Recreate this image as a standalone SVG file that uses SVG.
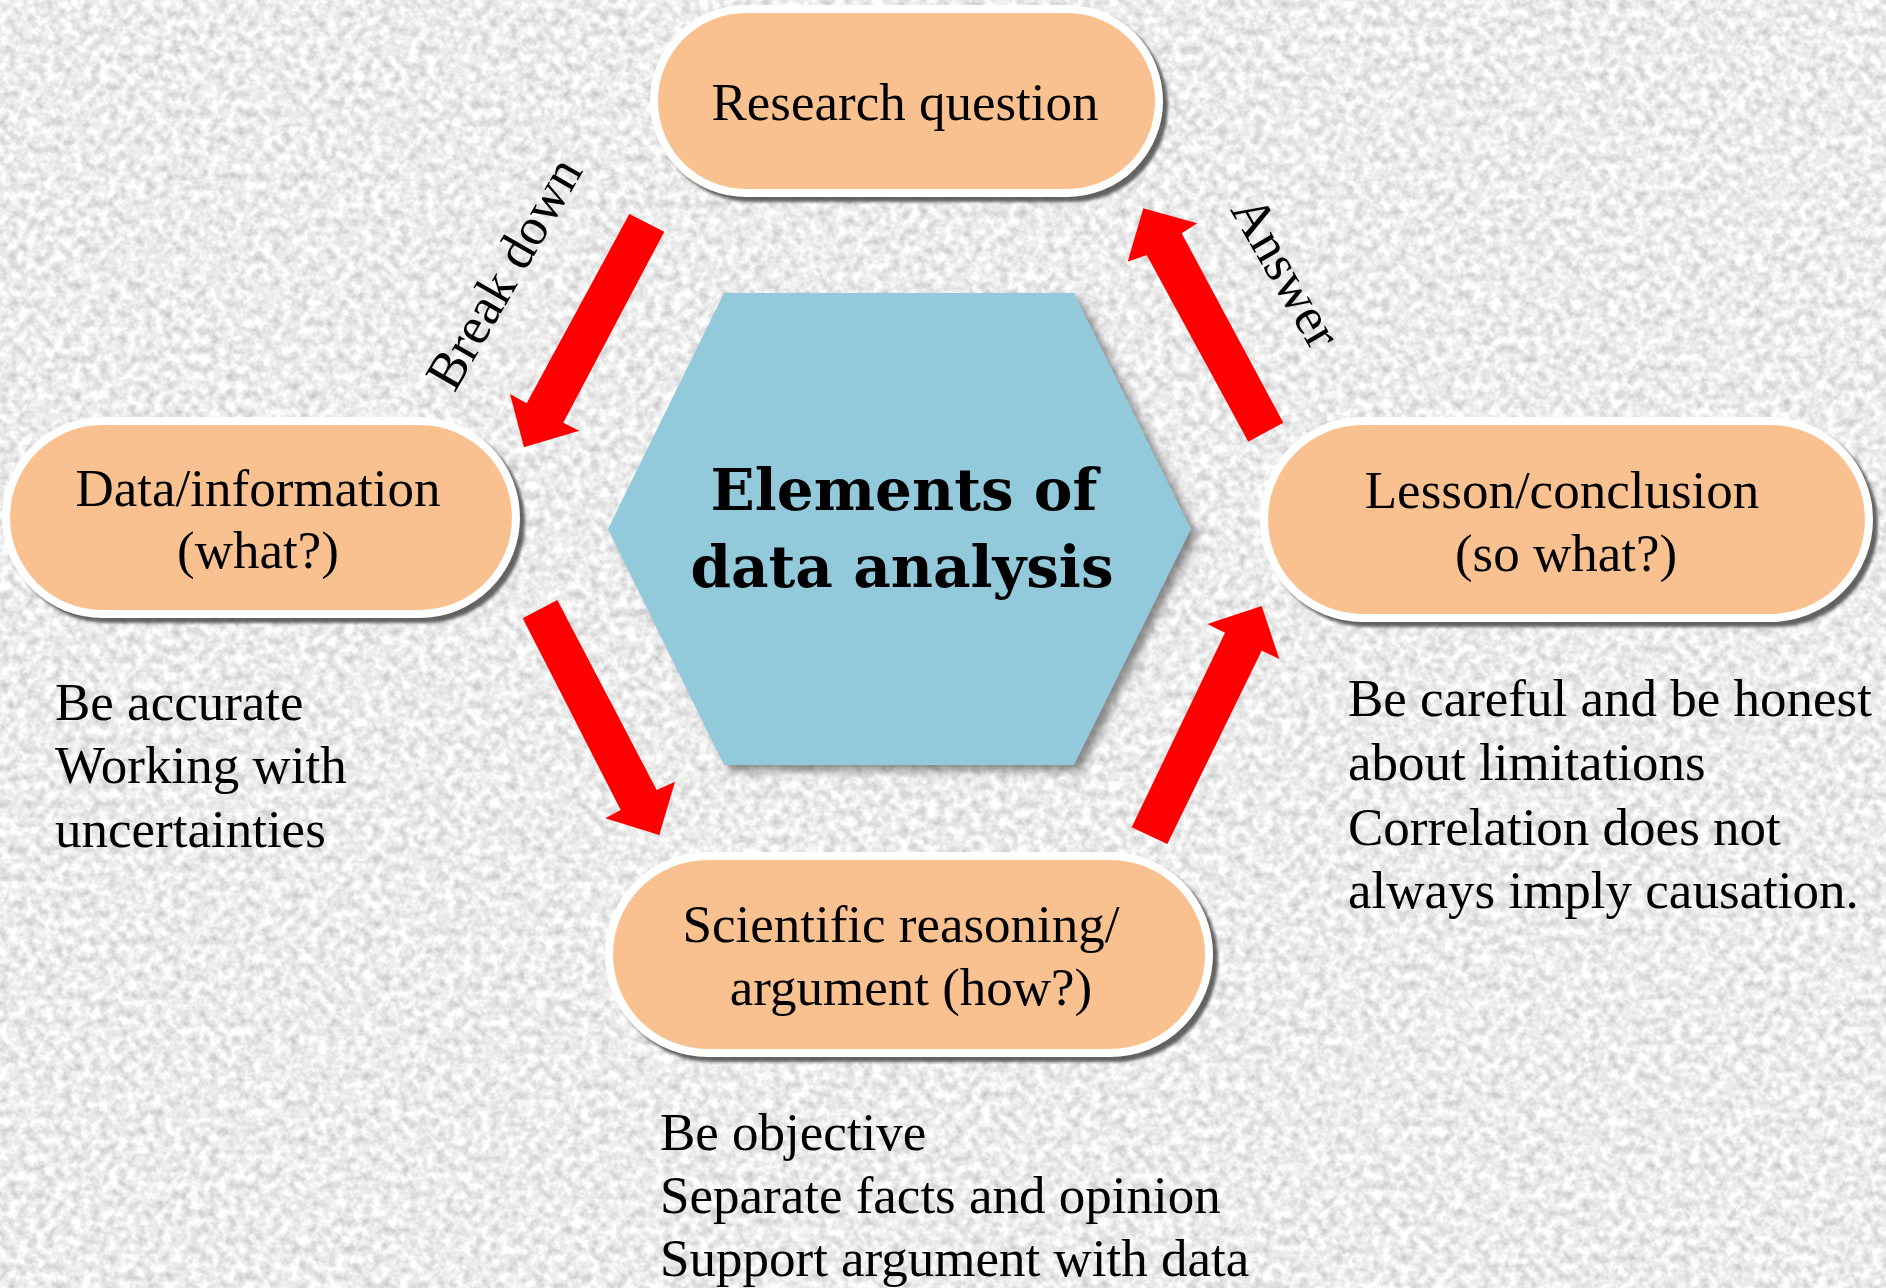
<svg xmlns="http://www.w3.org/2000/svg" width="1886" height="1288" viewBox="0 0 1886 1288">
  <defs>
    <!-- granite-like paper background -->
    <filter id="grain" x="0" y="0" width="100%" height="100%" color-interpolation-filters="sRGB">
      <feTurbulence type="fractalNoise" baseFrequency="0.11" numOctaves="3" seed="7" result="n"/>
      <feColorMatrix in="n" type="matrix" values="0.36 0 0 0 0.745  0.36 0 0 0 0.745  0.36 0 0 0 0.745  0 0 0 0 1"/>
    </filter>
    <filter id="pillShadow" x="-5%" y="-10%" width="115%" height="130%" color-interpolation-filters="sRGB">
      <feDropShadow dx="5" dy="5" stdDeviation="1.6" flood-color="#4a4a4a" flood-opacity="0.85"/>
    </filter>
    <filter id="hexShadow" x="-10%" y="-10%" width="125%" height="125%" color-interpolation-filters="sRGB">
      <feDropShadow dx="7" dy="6" stdDeviation="4" flood-color="#555555" flood-opacity="0.65"/>
    </filter>
    <style>
      .pill { fill: #F9C190; stroke: #FFFFFF; stroke-width: 8; filter: url(#pillShadow); }
      .hex { fill: #92CADB; filter: url(#hexShadow); }
      .arrow { fill: #FF0000; stroke: none; }
      .label { font-family: "Liberation Serif", "Times New Roman", serif; font-size: 53px; fill: #000000; }
      .mid { text-anchor: middle; }
      .title { font-family: "DejaVu Serif", serif; font-weight: bold; font-size: 58px; fill: #000000; text-anchor: middle; }
    </style>
  </defs>

  <rect x="0" y="0" width="1886" height="1288" fill="#E8E8E8"/>
  <rect x="0" y="0" width="1886" height="1288" filter="url(#grain)"/>

  <!-- central hexagon -->
  <g id="center">
    <polygon class="hex" points="608,529 724,293 1074,293 1191,529 1074,765 724,765"/>
    <text class="title" x="904" y="510">Elements of</text>
    <text class="title" x="902" y="587">data analysis</text>
  </g>

  <g id="research-question">
    <rect class="pill" x="654" y="9" width="505" height="184" rx="92" ry="92"/>
    <text class="label mid" x="905" y="120">Research question</text>
  </g>

  <g id="data-information">
    <rect class="pill" x="6" y="421" width="510" height="193" rx="96.5" ry="96.5"/>
    <text class="label mid" x="258" y="506">Data/information</text>
    <text class="label mid" x="258" y="568">(what?)</text>
  </g>

  <g id="lesson-conclusion">
    <rect class="pill" x="1264" y="421" width="605" height="197" rx="98.5" ry="98.5"/>
    <text class="label mid" x="1562" y="508">Lesson/conclusion</text>
    <text class="label mid" x="1566" y="571">(so what?)</text>
  </g>

  <g id="scientific-reasoning">
    <rect class="pill" x="609" y="856" width="600" height="197" rx="98.5" ry="98.5"/>
    <text class="label mid" x="901" y="942">Scientific reasoning/</text>
    <text class="label mid" x="911" y="1005">argument (how?)</text>
  </g>

  <!-- block arrows around the cycle -->
  <g id="connectors">
    <polygon class="arrow" points="629.3,214 664.3,231.7 563.3,422.7 579.3,430.7 524,447.3 510,394 526.7,403.3"/>
    <polygon class="arrow" points="522.7,618.3 557.3,600 656.7,790 675,781.7 659.3,835 605.3,818.3 620.7,810"/>
    <polygon class="arrow" points="1131.7,827.3 1225,632.7 1207.3,624 1261.7,606 1279.3,659 1261.7,650.7 1167.3,844"/>
    <polygon class="arrow" points="1248.3,441.7 1146.7,255 1127.7,261.7 1143.3,208.3 1197.3,223.3 1181.7,233.3 1283.3,422.7"/>
    <text class="label mid" transform="translate(519,282) rotate(-60)">Break down</text>
    <text class="label mid" transform="translate(1271,281) rotate(60)">Answer</text>
  </g>

  <!-- notes under the nodes -->
  <g id="notes-data">
    <text class="label" x="55" y="720">Be accurate</text>
    <text class="label" x="55" y="783">Working with</text>
    <text class="label" x="55" y="847">uncertainties</text>
  </g>
  <g id="notes-lesson">
    <text class="label" x="1348" y="716">Be careful and be honest</text>
    <text class="label" x="1348" y="780">about limitations</text>
    <text class="label" x="1348" y="845">Correlation does not</text>
    <text class="label" x="1348" y="908">always imply causation.</text>
  </g>
  <g id="notes-reasoning">
    <text class="label" x="660" y="1150">Be objective</text>
    <text class="label" x="660" y="1213">Separate facts and opinion</text>
    <text class="label" x="660" y="1276">Support argument with data</text>
  </g>
</svg>
